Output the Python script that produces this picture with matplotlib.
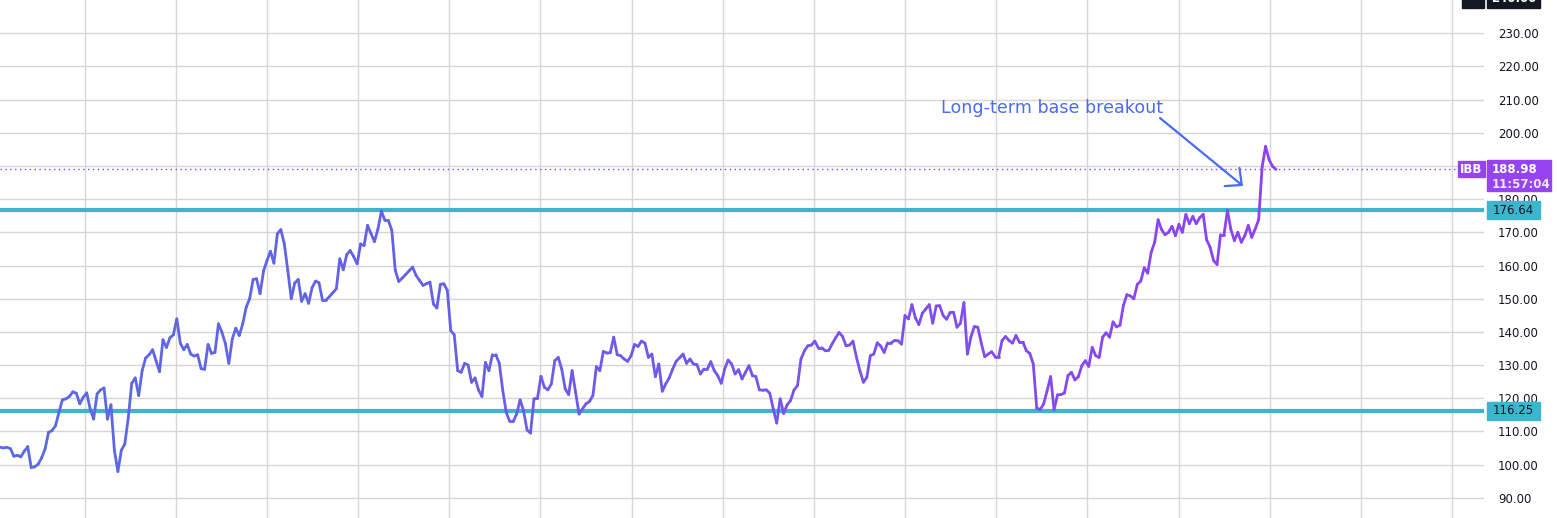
import numpy as np
import matplotlib.pyplot as plt
from matplotlib.collections import LineCollection
from matplotlib.colors import LinearSegmentedColormap
from matplotlib.patches import Rectangle
from matplotlib.transforms import blended_transform_factory

# IBB closes (left to right)
ibb_close = [
    105.2, 105.0, 105.2, 104.8, 102.5, 102.8, 102.3, 104.0, 105.4, 99.1,
    99.3, 100.1, 102.0, 104.7, 109.7, 110.2, 111.7, 115.7, 119.5, 119.8,
    120.5, 121.9, 121.5, 118.3, 120.3, 121.6, 116.8, 113.7, 121.3, 122.5,
    123.1, 113.7, 118.0, 104.2, 97.9, 104.3, 106.2, 114.2, 124.5, 126.1,
    120.8, 128.3, 132.1, 133.1, 134.6, 131.3, 128.0, 137.6, 135.3, 138.2,
    139.1, 143.9, 136.6, 134.6,
    136.2, 133.3, 132.7, 133.1, 128.9, 128.7, 136.2, 133.5, 133.8, 142.4,
    139.9, 136.4, 130.5, 137.9, 141.1, 138.9, 142.4, 147.4, 150.0, 155.8,
    156.0, 151.5, 158.3, 161.5, 164.3, 160.7, 169.6, 170.8, 166.5, 158.5,
    150.0, 154.7, 155.8, 149.2, 151.5, 148.6, 153.3, 155.3, 154.8, 149.6,
    149.6, 150.6, 151.8, 153.0, 162.0, 158.7, 163.3, 164.5, 162.7, 160.5,
    166.5, 166.0, 172.1,
    169.6, 167.2, 171.0, 176.4, 173.6, 173.6, 170.6, 158.5, 155.2, 156.2,
    157.3, 158.4, 159.5, 157.0, 155.5, 154.0, 154.5, 155.0, 148.4, 147.2,
    154.3, 154.5, 152.5, 140.4, 139.1, 128.3, 127.8, 130.5, 130.0, 124.8,
    126.1, 122.5, 120.5, 130.8, 128.3, 133.1, 133.1, 130.5, 122.3, 115.7,
    113.0, 113.0, 115.2, 119.5, 116.2, 110.4, 109.5, 119.8, 119.9, 126.6,
    123.3, 122.5, 124.3, 131.3, 132.3,
    128.8, 122.8, 121.1, 128.3, 121.8, 115.2, 116.8, 118.3, 119.0, 120.8,
    129.5, 128.3, 134.1, 133.6, 133.7, 138.4, 133.1, 132.8, 131.8, 131.1,
    132.8, 136.2, 135.6, 137.2, 136.6, 132.3, 133.3, 126.5, 130.3, 122.1,
    124.3, 126.1, 128.8, 131.1, 132.2, 133.3, 130.5, 131.8, 130.3, 130.1,
    127.3, 128.8, 128.8, 131.0, 128.3, 126.8, 124.5, 128.8, 131.5, 130.3,
    127.3, 128.6, 125.8,
    127.8, 129.8, 126.8, 126.5, 122.5, 122.4, 122.5, 121.5, 116.8, 112.5,
    119.8, 115.4, 118.0, 119.3, 122.5, 123.8, 131.8, 134.3, 135.8, 136.0,
    137.2, 135.2, 135.2, 134.3, 134.4, 136.4, 138.2, 139.8, 138.6, 135.8,
    136.0, 137.2, 132.3, 128.3, 124.8, 126.3, 132.8, 133.3, 136.7, 135.7,
    133.8, 136.7, 136.7, 137.4, 137.3, 136.3, 144.9, 143.9, 148.2, 144.2,
    142.2, 145.6, 146.9,
    148.2, 142.6, 147.8, 147.9, 144.9, 143.8, 145.8, 145.9, 141.4, 142.6,
    148.8, 133.3, 138.4, 141.6, 141.4, 136.6, 132.5, 133.3, 134.0, 132.5,
    132.5, 137.4, 138.6, 137.4, 136.6, 138.9, 136.9, 136.9, 134.3, 133.5,
    130.3, 117.0, 116.6, 118.3, 122.3, 126.5, 116.6, 121.0, 121.1, 121.6,
    126.8, 127.8, 125.5, 126.5, 129.8, 131.3, 129.6, 135.3, 132.8, 132.3,
    138.4, 139.7, 138.4,
    143.0, 141.5, 142.0, 148.0, 151.2, 150.8, 150.0, 154.3, 155.3, 159.3,
    157.7, 164.0, 167.0, 173.8, 170.8, 169.3, 170.0, 171.8, 169.0, 172.4,
    170.0, 175.4, 172.6, 174.8, 172.6, 174.4, 175.4, 167.7, 165.5, 161.5,
    160.3, 169.3, 169.3, 176.6, 170.8, 167.5, 170.0, 167.0, 169.0, 172.1,
    168.5, 171.0, 173.8, 189.7, 195.9, 191.9, 189.9, 188.98,
]

resistance = 176.64
support = 116.25
last_price = 188.98
ticker = 'IBB'
countdown = '11:57:04'
y_ticks = np.arange(90, 231, 10)
note = 'Long-term base breakout'

W, H = 1557, 518
fig = plt.figure(figsize=(W / 100, H / 100), dpi=100)
ax = fig.add_axes([0, 0, 1484 / W, 1])

n = len(ibb_close)
x = np.arange(n)
y = np.array(ibb_close)

# x range: last bar sits at ~1276 px of a 1484 px wide pane
xmax = (n - 1) * 1484 / 1276
ax.set_xlim(0, xmax)
ax.set_ylim(83.88, 240.04)
px = xmax / 1484          # data units per pixel along x
py = (240.04 - 83.88) / H # data units per pixel along y

# grid
gx = [(84.7 + 91.15 * k) * px for k in range(16)]
ax.set_xticks(gx)
ax.set_yticks(y_ticks)
ax.grid(True, color='#d6d6d6', lw=1)
ax.set_axisbelow(True)
ax.tick_params(length=0, labelbottom=False)
ax.yaxis.tick_right()
ax.set_yticklabels([f'{v:.2f}' for v in y_ticks], fontsize=8.5, color='#131722')
ax.tick_params(axis='y', pad=10)
for s in ax.spines.values():
    s.set_visible(False)

# support / resistance
ax.axhline(resistance, color='#3cb5cf', lw=3, zorder=2)
ax.axhline(support, color='#3cb5cf', lw=3, zorder=2)

# price line, blue -> purple
pts = np.column_stack([x, y]).reshape(-1, 1, 2)
segs = np.concatenate([pts[:-1], pts[1:]], axis=1)
cmap = LinearSegmentedColormap.from_list('ln', ['#5a6ae4', '#6560e8', '#7a52ec', '#8e42f2'])
lc = LineCollection(segs, cmap=cmap, linewidth=2, zorder=3, capstyle='round', joinstyle='round')
lc.set_array(x[:-1].astype(float))
ax.add_collection(lc)

# last price dotted line
ax.plot([0, 1458 * px], [last_price, last_price], color='#8a3ff0', lw=1,
        ls=(0, (1, 2.5)), clip_on=False, zorder=2)

# annotation
blue = '#4a6cf0'
ax.text(1052 * px, 240.04 - 108 * py, note, color=blue, fontsize=12.6,
        ha='center', va='center')
ax.annotate('', xy=(1243 * px, 240.04 - 186 * py), xytext=(1160 * px, 240.04 - 118 * py),
            arrowprops=dict(arrowstyle='->,head_length=0.6,head_width=0.56',
                            color=blue, lw=1.6, mutation_scale=15, shrinkA=0, shrinkB=0))

# price-scale labels
tr = blended_transform_factory(ax.transAxes, ax.transData)
def fx(p):
    return p / 1484

for lvl in (resistance, support):
    ax.add_patch(Rectangle((fx(1487), lvl - 9 * py), fx(1540) - fx(1487), 18 * py,
                           transform=tr, color='#3cb5cf', clip_on=False, zorder=5))
    ax.text(fx(1513.5), lvl, f'{lvl:.2f}', transform=tr, ha='center', va='center',
            fontsize=8.5, color='#131722', clip_on=False, zorder=6)

purple = '#9643f0'
ax.add_patch(Rectangle((fx(1487), last_price - 22 * py), fx(1551) - fx(1487), 31 * py,
                       transform=tr, color=purple, clip_on=False, zorder=5))
ax.text(fx(1492), last_price, f'{last_price:.2f}', transform=tr, ha='left', va='center',
        fontsize=8.5, color='white', fontweight='bold', clip_on=False, zorder=6)
ax.text(fx(1492), last_price - 15 * py, countdown, transform=tr, ha='left', va='center',
        fontsize=8.5, color='#eee6ff', fontweight='bold', clip_on=False, zorder=6)
ax.add_patch(Rectangle((fx(1458), last_price - 8 * py), fx(1485) - fx(1458), 16 * py,
                       transform=tr, color=purple, clip_on=False, zorder=5))
ax.text(fx(1471.5), last_price, ticker, transform=tr, ha='center', va='center',
        fontsize=8.5, color='white', fontweight='bold', clip_on=False, zorder=6)

# top-right clipped crosshair label
ax.add_patch(Rectangle((fx(1462), 240.04 - 8 * py), fx(1484) - fx(1462), 20 * py,
                       transform=tr, color='#131722', clip_on=False, zorder=5))
ax.add_patch(Rectangle((fx(1487), 240.04 - 8 * py), fx(1540) - fx(1487), 20 * py,
                       transform=tr, color='#131722', clip_on=False, zorder=5))
ax.text(fx(1513.5), 240.04 - 5 * py, '240.00', transform=tr, ha='center', va='bottom',
        fontsize=8.5, color='white', fontweight='bold', clip_on=False, zorder=6)

fig.savefig('out.png', dpi=100)
